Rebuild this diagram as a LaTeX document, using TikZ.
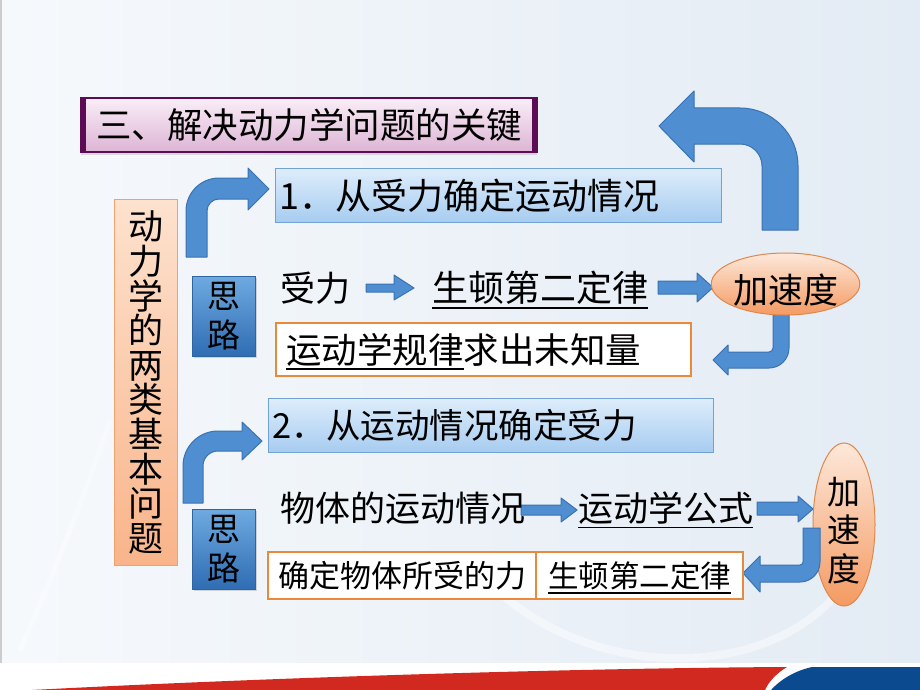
\documentclass[tikz,border=0pt]{standalone}
\usepackage{fontspec}
\setmainfont{Noto Sans CJK SC}
\usetikzlibrary{shapes.geometric,shadows}
\definecolor{bgL}{HTML}{F6F9FC}
\definecolor{bgR}{HTML}{E3EBF4}
\definecolor{arrF}{HTML}{4F8ED1}
\definecolor{arrD}{HTML}{3A72B2}
\definecolor{tiD}{HTML}{5E0B55}
\definecolor{tiT}{HTML}{F9EEF7}
\definecolor{tiB}{HTML}{DDB4D5}
\definecolor{bxT}{HTML}{DEEDFB}
\definecolor{bxB}{HTML}{A6CCF0}
\definecolor{bxD}{HTML}{72A2D4}
\definecolor{orT}{HTML}{FDE2CE}
\definecolor{orB}{HTML}{F9B48A}
\definecolor{orD}{HTML}{EFA26C}
\definecolor{slT}{HTML}{6EAAE0}
\definecolor{slB}{HTML}{2F6CB3}
\definecolor{slD}{HTML}{2D65A3}
\definecolor{elT}{HTML}{FDE8DA}
\definecolor{elB}{HTML}{F49A62}
\definecolor{elD}{HTML}{E0884C}
\definecolor{wbD}{HTML}{E8893C}
\definecolor{redS}{HTML}{D1291F}
\definecolor{bluS}{HTML}{0B4A8F}
\newsavebox\ulbox
\newcommand\myul[1]{\sbox\ulbox{#1}\rlap{\raisebox{0pt}[0pt][0pt]{\rule[-7pt]{\wd\ulbox}{1.8pt}}}\usebox\ulbox}
\newcommand\dropby[2]{\raisebox{-#1}[\height][\depth]{#2}}
\newcommand\fsz[2]{\fontsize{#1}{#2}\selectfont}
\tikzset{
  blockarrow/.style={fill=arrF, draw=arrD, line width=1pt, line join=round},
  titlebox/.style={draw=tiD, line width=2pt, top color=tiT, bottom color=tiB, anchor=north west, inner sep=0pt, font=\fsz{35.5}{40},
    drop shadow={shadow xshift=0pt, shadow yshift=-3pt, opacity=0.25, fill=gray}},
  bluebox/.style={draw=bxD, line width=1pt, top color=bxT, bottom color=bxB, anchor=north west, inner ysep=0pt, align=left},
  whitebox/.style={draw=wbD, line width=2pt, fill=white, anchor=north west, inner sep=0pt},
  kindbox/.style={draw=orD, line width=1pt, top color=orT, bottom color=orB, anchor=north west, inner sep=0pt, align=center},
  thinkbox/.style={draw=slD, line width=0.8pt, top color=slT, bottom color=slB, minimum width=63pt, minimum height=80pt, inner sep=0pt, anchor=north west, font=\fsz{33}{36},
    drop shadow={shadow xshift=2pt, shadow yshift=-2pt, opacity=0.3, fill=gray}},
  accel/.style={ellipse, draw=elD, line width=1pt, top color=elT, bottom color=elB, inner sep=0pt},
  plain/.style={inner sep=0pt, anchor=west},
}
\begin{document}
\begin{tikzpicture}[x=1pt,y=-1pt]
\useasboundingbox (0,0) rectangle (920,690);
% background
\shade[left color=bgL, right color=bgR] (0,0) rectangle (920,663);
\draw[white, opacity=0.45, line width=8pt] (470,560) .. controls (560,680) and (760,690) .. (840,590);
\draw[white, opacity=0.35, line width=5pt] (20,650) .. controls (60,560) and (90,480) .. (110,420);
\draw[gray!40, line width=2pt] (1,0) -- (1,663);
\fill[white] (0,663) rectangle (920,690);
\fill[redS] (32,690) .. controls (300,676) and (600,668) .. (787,667) .. controls (777,673) and (769,681) .. (765,690) -- cycle;
\fill[bluS] (812,667) -- (920,667) -- (920,690) -- (771,690) .. controls (780,680) and (794,671) .. (812,667) -- cycle;

% block arrows
\draw[blockarrow] (762,230) -- (762,166) arc[start angle=0, end angle=-90, radius=22] -- (694,144) -- (694,162) -- (659,126) -- (694,91) -- (694,108) -- (740,108) arc[start angle=270, end angle=360, radius=58] -- (798,230) -- cycle;
\draw[blockarrow] (186,257) -- (186,211) arc[start angle=180, end angle=270, radius=33] -- (248,178) -- (248,168) -- (269,189) -- (248,210) -- (248,199) -- (219,199) arc[start angle=270, end angle=180, radius=12] -- (207,257) -- cycle;
\draw[blockarrow] (183,503) -- (183,466) arc[start angle=180, end angle=270, radius=35] -- (242,431) -- (242,422) -- (262,441) -- (242,460) -- (242,451) -- (218,451) arc[start angle=270, end angle=180, radius=15] -- (203,503) -- cycle;
\draw[blockarrow] (789,310) -- (789,348) arc[start angle=0, end angle=90, radius=20] -- (728,368) -- (728,375) -- (713,360) -- (728,345) -- (728,352) -- (769,352) arc[start angle=90, end angle=0, radius=4] -- (773,310) -- cycle;
\draw[blockarrow] (366,284) -- (394,284) -- (394,275) -- (414,288) -- (394,300) -- (394,292) -- (366,292) -- cycle;
\draw[blockarrow] (658,281) -- (697,281) -- (697,273) -- (713,287.5) -- (697,302) -- (697,294) -- (658,294) -- cycle;
\draw[blockarrow] (521,505) -- (561,505) -- (561,498) -- (577,510) -- (561,522) -- (561,515) -- (521,515) -- cycle;
\draw[blockarrow] (757,502) -- (798,502) -- (798,496) -- (813,509) -- (798,522) -- (798,515) -- (757,515) -- cycle;

% title
\node[titlebox, minimum width=456pt, minimum height=54pt] (title) at (80,97) {三、解决动力学问题的关键};
\draw[tiD, line width=6pt] ([xshift=3pt]title.north west) -- ([xshift=3pt]title.south west);
\draw[tiD, line width=6pt] ([xshift=-3pt]title.north east) -- ([xshift=-3pt]title.south east);

% left box
\node[kindbox, minimum width=63pt, minimum height=366pt, font=\fsz{35}{34.6}] (kinds) at (114,199) {动\\力\\学\\的\\两\\类\\基\\本\\问\\题};

% first problem
\node[bluebox, minimum width=446pt, minimum height=54pt, text width=438pt, inner xsep=4pt, font=\fsz{36}{40}] (q1) at (275,168) {1．从受力确定运动情况};
\node[thinkbox] (think1) at (192,276) {\dropby{4pt}{\begin{tabular}{@{}c@{}}思\\路\end{tabular}}};
\node[plain, font=\fsz{35}{40}] (force) at (280,288) {受力};
\node[plain, font=\fsz{36}{40}] (newton1) at (432,288) {\myul{生顿第二定律}};
\node[accel, minimum width=145pt, minimum height=62pt, font=\fsz{35}{40}] (acc1) at (785.5,284) {\dropby{6pt}{加速度}};
\node[whitebox, minimum width=415pt, minimum height=53pt, text width=395pt, inner xsep=10pt, align=left, font=\fsz{35.5}{40}] (rule1) at (275,322) {\myul{运动学规律}求出未知量};

% second problem
\node[bluebox, minimum width=445pt, minimum height=54pt, text width=437pt, inner xsep=4pt, font=\fsz{34.5}{40}] (q2) at (268,398) {2．从运动情况确定受力};
\node[thinkbox] (think2) at (192,509) {\dropby{4pt}{\begin{tabular}{@{}c@{}}思\\路\end{tabular}}};
\node[plain, font=\fsz{35}{40}] (motion) at (280,508) {物体的运动情况};
\node[plain, font=\fsz{35}{40}] (kinform) at (578,508) {\myul{运动学公式}};
\node[accel, minimum width=62pt, minimum height=145pt, font=\fsz{33}{36}] (acc2) at (844,524.5) {\dropby{10pt}{\begin{tabular}{@{}c@{}}加\\速\\度\end{tabular}}};
\draw[blockarrow] (820,528) -- (820,562) arc[start angle=0, end angle=90, radius=20] -- (760,582) -- (760,592) -- (743,573) -- (760,556) -- (760,565) -- (800,565) arc[start angle=90, end angle=0, radius=3] -- (803,528) -- cycle;
\node[whitebox, minimum width=268pt, minimum height=47pt, font=\fsz{31}{36}] (forceq) at (267,551) {确定物体所受的力};
\node[whitebox, minimum width=207pt, minimum height=47pt, font=\fsz{30.5}{36}] (newton2) at (535,551) {\myul{生顿第二定律}};
\end{tikzpicture}
\end{document}
